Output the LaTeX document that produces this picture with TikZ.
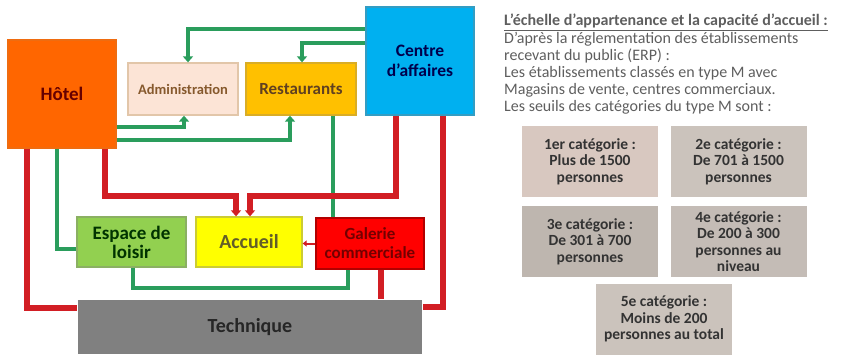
\documentclass[tikz,border=0pt]{standalone}
\usepackage{fontspec}
\setmainfont{Carlito}
\usetikzlibrary{arrows.meta,calc,positioning}

% Couleurs des zones
\definecolor{orangehotel}{HTML}{FF6600}
\definecolor{peche}{HTML}{FCE4D6}
\definecolor{orrest}{HTML}{FFC000}
\definecolor{bleuaff}{HTML}{00B0F0}
\definecolor{vertloisir}{HTML}{92D050}
\definecolor{jauneacc}{HTML}{FFFF00}
\definecolor{rougecom}{HTML}{FF0000}
\definecolor{gristech}{HTML}{808080}
\definecolor{lienvert}{HTML}{2A9D5C}
\definecolor{lienrouge}{HTML}{D21E24}
% Couleurs des categories
\definecolor{catrose}{HTML}{D8C8C0}
\definecolor{catbeige}{HTML}{CBC3BC}
\definecolor{catgris}{HTML}{BEB6AF}
\definecolor{catpale}{HTML}{C4BCB6}
\definecolor{gristexte}{HTML}{5E5E5E}

\newcommand{\taille}[1]{\fontsize{#1}{#1}\selectfont\bfseries}

\tikzset{
  zone/.style={draw, line width=1.3pt, align=center, inner sep=2pt},
  categorie/.style={minimum width=136, minimum height=71, align=center, inner sep=1pt,
    text=black!80, font=\fontsize{15.5}{16.5}\selectfont\bfseries},
  fleche/.style={-{Triangle[length=6pt,width=10pt]}},
  vert/.style={draw=lienvert, line width=4.5pt},
  rouge/.style={draw=lienrouge, line width=5.5pt}
}

\begin{document}
\begin{tikzpicture}[x=1pt,y=-1pt]
    \useasboundingbox (0,0) rectangle (854,354);

    % Zones du plan
    \node[zone, fill=orangehotel, draw=orangehotel!75!brown, text=red!40!black,
        font=\taille{19}, minimum width=108, minimum height=108] (hotel) at (62,94) {Hôtel};
    \node[zone, fill=peche, draw=brown!45, text=brown!70!black,
        font=\taille{14.5}, minimum width=110, minimum height=52] (admin) at (183,89) {Administration};
    \node[zone, fill=orrest, draw=orrest!70!gray, text=brown!50!black,
        font=\taille{17}, minimum width=110, minimum height=52] (resto) at (301,89) {Restaurants};
    \node[zone, fill=bleuaff, draw=bleuaff!60!gray, text=blue!30!black,
        font=\taille{17.5}, minimum width=108, minimum height=108] (centre) at (420,61) {Centre\\[2pt]d'affaires};
    \node[zone, fill=vertloisir, draw=vertloisir!60!gray, text=green!20!black,
        font=\taille{19}, minimum width=109, minimum height=50] (loisir) at (131.5,242) {Espace de\\loisir};
    \node[zone, fill=jauneacc, draw=jauneacc!60!gray, text=olive!60!black,
        font=\taille{20}, minimum width=106, minimum height=50] (accueil) at (249,242) {Accueil};
    \node[zone, fill=rougecom, draw=red!70!black, text=red!45!black,
        font=\taille{17}, minimum width=108, minimum height=51] (galerie) at (370,243.5) {Galerie\\[2pt]commerciale};
    \node[zone, fill=gristech, draw=none, text=black!85,
        font=\taille{20}, minimum width=344, minimum height=54] (technique) at (250,327) {Technique};

    % Hauteurs des liaisons horizontales
    \coordinate (rhaut) at (0,196);
    \coordinate (vbas) at (0,288);

    % Liaisons vertes
    \draw[vert, fleche] ([yshift=32pt]centre.west) -| ([xshift=5pt]admin.north);
    \draw[vert, fleche] ([yshift=18pt]centre.west) -| ([xshift=1pt]resto.north);
    \draw[vert, fleche] ([yshift=-33pt]hotel.east) -| ([xshift=1pt]admin.south);
    \draw[vert, fleche] ([yshift=-46pt]hotel.east) -| ([xshift=-11pt]resto.south);
    \draw[vert] ([xshift=32pt]resto.south) -- ([xshift=-37pt]galerie.north);
    \draw[vert] ([xshift=-5pt]hotel.south) |- ([yshift=-7pt]loisir.west);
    \draw[vert] ([xshift=1.5pt]loisir.south) -- ([xshift=1.5pt]loisir.south |- vbas)
        -| ([xshift=-22pt]galerie.south);

    % Liaisons rouges
    \draw[rouge] ([xshift=-35pt]hotel.south) |- ([yshift=19pt]technique.west);
    \draw[rouge, fleche] ([xshift=43pt]hotel.south) -- ([xshift=43pt]hotel.south |- rhaut)
        -| ([xshift=-13pt]accueil.north);
    \draw[rouge, fleche] ([xshift=-24pt]centre.south) -- ([xshift=-24pt]centre.south |- rhaut)
        -| ([xshift=1pt]accueil.north);
    \draw[rouge] ([xshift=23pt]centre.south) |- ([yshift=20pt]technique.east);
    \draw[rouge] ([xshift=11pt]galerie.south) -- ([xshift=131pt]technique.north);
    \draw[draw=lienrouge, line width=2pt, -{Triangle[length=4pt,width=6pt]}]
        (galerie.west) -- (galerie.west -| accueil.east);

    % Texte d'introduction
    \node[anchor=north west, align=left, inner sep=0, text=gristexte,
        font=\fontsize{16}{17}\selectfont] (intro) at (504,14)
        {\textbf{\underline{L'échelle d'appartenance et la capacité d'accueil :}}\\[1pt]
         D'après la réglementation des établissements\\
         recevant du public (ERP) :\\
         Les établissements classés en type M avec\\
         Magasins de vente, centres commerciaux.\\
         Les seuils des catégories du type M sont :};

    % Cases des categories
    \foreach \nom/\cx/\cy/\teinte/\texte in {
        cat1/590/161.5/catrose/{1er catégorie :\\Plus de 1500\\personnes},
        cat2/738.5/161.5/catbeige/{2e catégorie :\\De 701 à 1500\\personnes},
        cat3/590/241.5/catgris/{3e catégorie :\\De 301 à 700\\personnes},
        cat4/738.5/241.5/catpale/{4e catégorie :\\De 200 à 300\\personnes au\\niveau},
        cat5/664/319/catbeige/{5e catégorie :\\Moins de 200\\personnes au total}}
        \node[categorie, fill=\teinte] (\nom) at (\cx,\cy) {\texte};
\end{tikzpicture}
\end{document}
